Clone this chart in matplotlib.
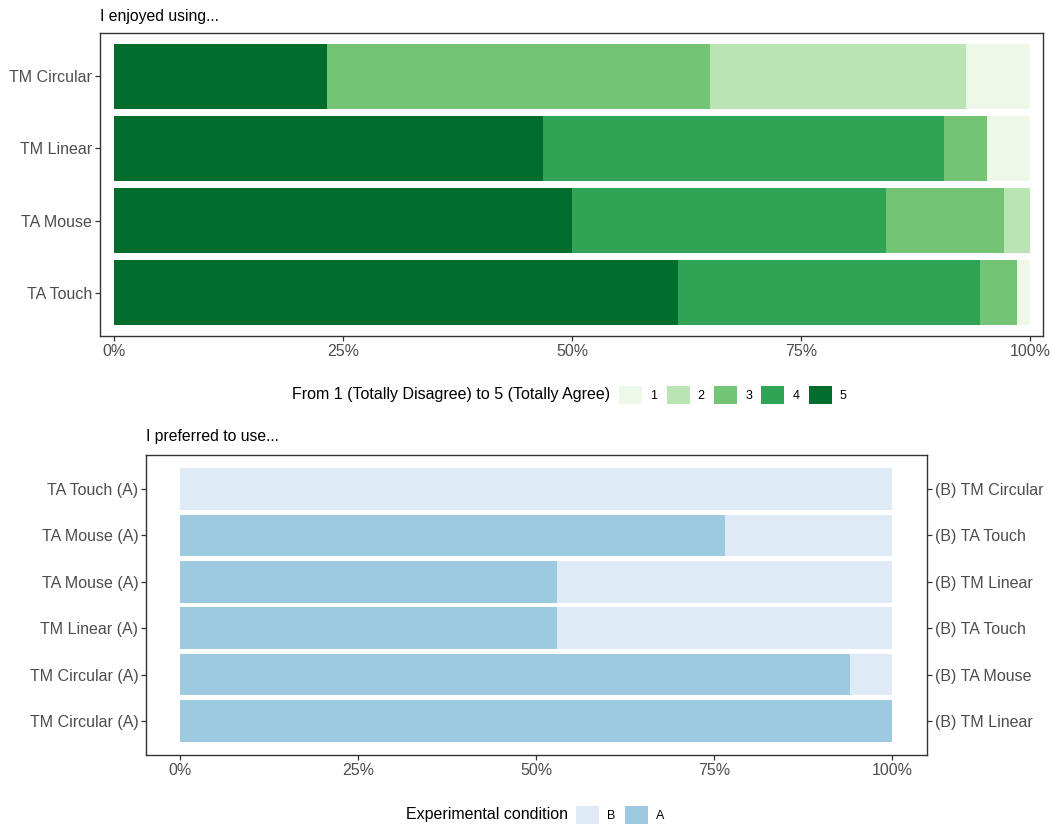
import matplotlib
matplotlib.use("Agg")
import matplotlib.pyplot as plt
import numpy as np
from matplotlib.patches import Patch
from matplotlib.ticker import FuncFormatter

plt.rcParams['font.family'] = ['Liberation Sans', 'DejaVu Sans']

# ---------------- data ----------------
enjoy_conditions = ["TM Circular", "TM Linear", "TA Mouse", "TA Touch"]  # top to bottom
likert_levels = ["1", "2", "3", "4", "5"]
# percentages for each level (rows follow enjoy_conditions)
lik_5 = [23.3, 46.8, 50.0, 61.6]
lik_4 = [0.0, 43.8, 34.3, 32.9]
lik_3 = [41.8, 4.7, 12.9, 4.1]
lik_2 = [27.9, 0.0, 2.8, 0.0]
lik_1 = [7.0, 4.7, 0.0, 1.4]
likert_colors = ["#EDF8E9", "#BAE4B3", "#74C476", "#31A354", "#006D2C"]

pref_left = ["TA Touch (A)", "TA Mouse (A)", "TA Mouse (A)", "TM Linear (A)",
             "TM Circular (A)", "TM Circular (A)"]  # top to bottom
pref_right = ["(B) TM Circular", "(B) TA Touch", "(B) TM Linear", "(B) TA Touch",
              "(B) TA Mouse", "(B) TM Linear"]
pref_A = [0.0, 76.5, 52.9, 52.9, 94.1, 100.0]
pref_B = [100 - a for a in pref_A]
pref_colors = {"B": "#DEEBF7", "A": "#9ECAE1"}

tick_color = "#4D4D4D"
TICK_FS = 11.5
TITLE_FS = 11.3
LEG_TITLE_FS = 11.5
LEG_FS = 9.0
W, H = 1053, 826
fig = plt.figure(figsize=(W / 100, H / 100), dpi=100)

def rect(l, t, r, b):
    return [l / W, 1 - b / H, (r - l) / W, (b - t) / H]

pct = FuncFormatter(lambda v, p: f"{int(round(v))}%")

def style(ax):
    for s in ax.spines.values():
        s.set_color("#333333")
        s.set_linewidth(1.0)
    ax.tick_params(axis="both", colors="#333333", labelcolor=tick_color,
                   labelsize=TICK_FS, length=3.5, width=0.9, pad=2)
    ax.xaxis.set_major_formatter(pct)
    ax.set_xticks([0, 25, 50, 75, 100])

key_len = 23 / (LEG_FS * 100 / 72)

# ---------------- top panel ----------------
ax1 = fig.add_axes(rect(100, 33, 1043, 336))
n = len(enjoy_conditions)
ypos = np.arange(n, 0, -1)  # top row gets highest y
left = np.zeros(n)
segments = [lik_5, lik_4, lik_3, lik_2, lik_1]
seg_colors = [likert_colors[4], likert_colors[3], likert_colors[2], likert_colors[1], likert_colors[0]]
for vals, col in zip(segments, seg_colors):
    v = np.array(vals)
    ax1.barh(ypos, v, left=left, height=0.9, color=col, edgecolor="none")
    left += v
ax1.set_xlim(-1.53, 101.42)
ax1.set_ylim(0.4, n + 0.6)
ax1.set_yticks(ypos)
ax1.set_yticklabels(enjoy_conditions)
style(ax1)
fig.text(100 / W, 1 - 17 / H, "I enjoyed using...", fontsize=TITLE_FS, color="black",
         ha="left", va="center")

# top legend
fig.text(610 / W, 1 - 395 / H, "From 1 (Totally Disagree) to 5 (Totally Agree)",
         fontsize=LEG_TITLE_FS, ha="right", va="center", color="black")
handles1 = [Patch(facecolor=c, edgecolor="none") for c in likert_colors]
fig.legend(handles1, likert_levels, loc="center left", bbox_to_anchor=(619 / W, 1 - 395 / H),
           ncol=5, frameon=False, fontsize=LEG_FS, handlelength=key_len, handleheight=key_len,
           handletextpad=0.65, columnspacing=0.75, borderpad=0, borderaxespad=0)

# ---------------- bottom panel ----------------
ax2 = fig.add_axes(rect(146, 455, 927, 755))
m = len(pref_left)
ypos2 = np.arange(m, 0, -1)
ax2.barh(ypos2, pref_A, height=0.9, color=pref_colors["A"], edgecolor="none")
ax2.barh(ypos2, pref_B, left=pref_A, height=0.9, color=pref_colors["B"], edgecolor="none")
ax2.set_xlim(-4.8, 104.9)
ax2.set_ylim(0.267, m + 0.733)
ax2.set_yticks(ypos2)
ax2.set_yticklabels(pref_left)
style(ax2)
ax2r = ax2.twinx()
ax2r.set_ylim(ax2.get_ylim())
ax2r.set_yticks(ypos2)
ax2r.set_yticklabels(pref_right)
for s in ax2r.spines.values():
    s.set_visible(False)
ax2r.tick_params(axis="y", colors="#333333", labelcolor=tick_color,
                 labelsize=TICK_FS, length=3.5, width=0.9, pad=2)
fig.text(146 / W, 1 - 437 / H, "I preferred to use...", fontsize=TITLE_FS, color="black",
         ha="left", va="center")

# bottom legend
fig.text(568 / W, 1 - 815 / H, "Experimental condition", fontsize=LEG_TITLE_FS,
         ha="right", va="center", color="black")
handles2 = [Patch(facecolor=pref_colors["B"], edgecolor="none"),
            Patch(facecolor=pref_colors["A"], edgecolor="none")]
fig.legend(handles2, ["B", "A"], loc="center left", bbox_to_anchor=(576 / W, 1 - 815 / H),
           ncol=2, frameon=False, fontsize=LEG_FS, handlelength=key_len, handleheight=key_len,
           handletextpad=0.65, columnspacing=0.75, borderpad=0, borderaxespad=0)

fig.savefig("out.png", dpi=100)
